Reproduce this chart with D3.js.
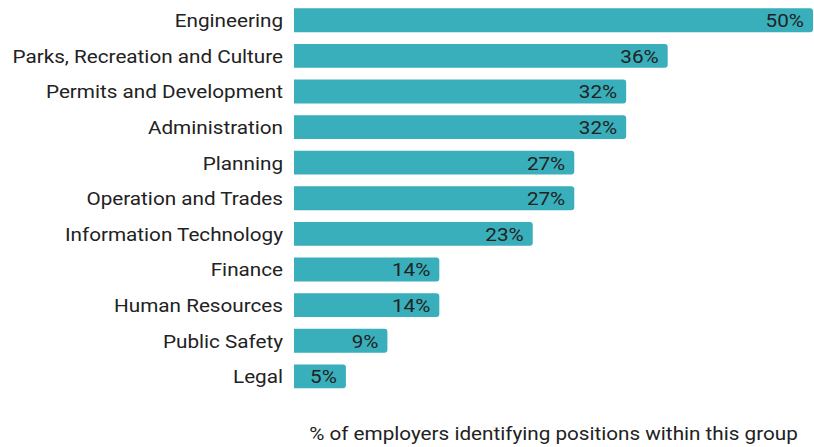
<!DOCTYPE html>
<html>
<head>
<meta charset="utf-8">
<script src="https://cdn.jsdelivr.net/npm/d3@7"></script>
<style>
  html, body { margin: 0; padding: 0; background: #fff; }
  svg { display: block; font-family: Roboto, "Noto Sans", sans-serif; }
</style>
</head>
<body>
<svg id="chart" width="814" height="447"></svg>
<script>
// Share of employers identifying positions in each group
const categories = [
  "Engineering",
  "Parks, Recreation and Culture",
  "Permits and Development",
  "Administration",
  "Planning",
  "Operation and Trades",
  "Information Technology",
  "Finance",
  "Human Resources",
  "Public Safety",
  "Legal"
];
const values = [50, 36, 32, 32, 27, 27, 23, 14, 14, 9, 5];
const axisTitle = "% of employers identifying positions within this group";

const svg = d3.select("#chart");
const margin = { left: 294, right: 1 };
const W = 814;
const sx = 1.15;          // horizontal widening applied to all text
const fontSize = 18;
const textColor = "#222222";

const x = d3.scaleLinear().domain([0, 50]).range([margin.left, W - margin.right]);
const y = d3.scaleBand().domain(categories).range([2.3, 394.3]).paddingInner(0.33).paddingOuter(0.17);

const barColor = "#38afba";
const r = 3;

// Bar with square left end and rounded right end
function barPath(x0, x1, y0, h) {
  const rr = Math.min(r, (x1 - x0) / 2, h / 2);
  return `M${x0},${y0}H${x1 - rr}Q${x1},${y0} ${x1},${y0 + rr}V${y0 + h - rr}Q${x1},${y0 + h} ${x1 - rr},${y0 + h}H${x0}Z`;
}

const rows = svg.append("g").selectAll("g")
  .data(categories.map((c, i) => ({ c, v: values[i] })))
  .join("g");

rows.append("path")
  .attr("d", d => barPath(x(0), x(d.v), y(d.c), y.bandwidth()))
  .attr("fill", barColor);

rows.append("text")
  .attr("transform", d => `translate(${x(d.v) - 9},${y(d.c) + y.bandwidth() / 2}) scale(${sx},1)`)
  .attr("dy", "0.38em")
  .attr("text-anchor", "end")
  .attr("font-size", fontSize)
  .attr("fill", textColor)
  .text(d => d.v + "%");

// Category axis labels
const pad = 11;
const yAxis = d3.axisLeft(y).tickSize(0).tickPadding(pad);
const gy = svg.append("g").attr("transform", `translate(${margin.left},0)`).call(yAxis);
gy.select(".domain").remove();
gy.selectAll("text")
  .attr("x", -pad / sx)
  .attr("dy", "0.38em")
  .attr("transform", `scale(${sx},1)`)
  .attr("font-size", fontSize)
  .attr("font-family", "Roboto, 'Noto Sans', sans-serif")
  .attr("fill", textColor);

svg.append("text")
  .attr("transform", `translate(${(x(0) + x(50)) / 2},440) scale(${sx},1)`)
  .attr("text-anchor", "middle")
  .attr("font-size", fontSize)
  .attr("fill", textColor)
  .text(axisTitle);
</script>
</body>
</html>
